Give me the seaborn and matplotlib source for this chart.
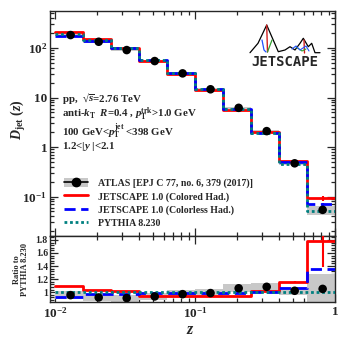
import numpy as np
import pandas as pd
import seaborn as sns
import matplotlib
matplotlib.use("Agg")
import matplotlib.pyplot as plt
from matplotlib.lines import Line2D
from matplotlib.patches import Patch
from matplotlib.ticker import FixedLocator, FixedFormatter, LogLocator, MultipleLocator, NullFormatter

# ---------------- data ----------------
z_edges = [0.01, 0.0158, 0.0251, 0.0398, 0.0631, 0.1, 0.158, 0.251, 0.398, 0.631, 1.0]
atlas_z = [0.0129, 0.0205, 0.0325, 0.0515, 0.0815, 0.129, 0.205, 0.325, 0.515, 0.816]
atlas_d = [183, 134, 91, 54.6, 30.8, 14.7, 6.2, 2.1, 0.47, 0.054]
atlas_syst = [0.06, 0.06, 0.06, 0.06, 0.06, 0.06, 0.06, 0.06, 0.06, 0.21]
pythia_d = [191.6, 145.7, 100, 58.4, 31.75, 14.9, 5.85, 1.94, 0.46, 0.0514]
colored_d = [209.8, 150.8, 102, 55.2, 30.0, 14.0, 5.50, 1.98, 0.534, 0.092]
colorless_d = [178.2, 141.3, 98, 57.8, 31.4, 14.75, 5.79, 1.94, 0.492, 0.0694]
colored_err = [0, 0, 0, 0, 0, 0, 0, 0, 0.004, 0.011]
colorless_err = [0, 0, 0, 0, 0, 0, 0, 0, 0.003, 0.005]

legend_labels = ["ATLAS [EPJ C 77, no. 6, 379 (2017)]",
                 "JETSCAPE 1.0 (Colored Had.)",
                 "JETSCAPE 1.0 (Colorless Had.)",
                 "PYTHIA 8.230"]

RED = "#ff0000"
BLUE = "#0000ff"
TEAL = "#008080"
GREY = "#c8c8c8"

sns.set_style("ticks")
plt.rcParams["font.family"] = ["Liberation Serif", "DejaVu Serif"]
plt.rcParams["font.weight"] = "bold"
plt.rcParams["mathtext.fontset"] = "custom"
plt.rcParams["mathtext.rm"] = "Liberation Serif:bold"
plt.rcParams["mathtext.it"] = "Liberation Serif:bold:italic"
plt.rcParams["mathtext.bf"] = "Liberation Serif:bold"

W, H = 353, 339
fig = plt.figure(figsize=(W / 100, H / 100), dpi=100)
L, R = 50, 335
ax = fig.add_axes([L / W, 1 - 236 / H, (R - L) / W, (236 - 11) / H])
axr = fig.add_axes([L / W, 1 - 302 / H, (R - L) / W, (302 - 236) / H], sharex=ax)

edges = np.array(z_edges)
pyth = np.array(pythia_d)


def stairs(a, vals, **kw):
    v = np.asarray(vals, dtype=float)
    df = pd.DataFrame({"z": edges, "v": np.append(v, v[-1])})
    sns.lineplot(data=df, x="z", y="v", drawstyle="steps-post", estimator=None,
                 sort=False, ax=a, legend=False, **kw)


for a in (ax, axr):
    a.set_xscale("log")
ax.set_yscale("log")

# ---- main panel ----
d = np.array(atlas_d)
s = np.array(atlas_syst)
ax.fill_between(edges, np.append(d * (1 - s), d[-1] * (1 - s[-1])),
                np.append(d * (1 + s), d[-1] * (1 + s[-1])), step="post",
                color=GREY, lw=0, zorder=1)
stairs(ax, colored_d, color=RED, lw=2.0, zorder=3)
ax.errorbar(atlas_z, colored_d, yerr=colored_err, fmt="none", ecolor=RED, elinewidth=1.5, zorder=3)
stairs(ax, colorless_d, color=BLUE, lw=2.0, linestyle=(0, (4, 2)), zorder=4)
ax.errorbar(atlas_z, colorless_d, yerr=colorless_err, fmt="none", ecolor=BLUE, elinewidth=1.5, zorder=4)
stairs(ax, pythia_d, color=TEAL, lw=2.0, linestyle=(0, (1, 1)), zorder=5)
sns.scatterplot(x=atlas_z, y=atlas_d, ax=ax, color="black", s=38, edgecolor="none", zorder=6, legend=False)

ax.set_xlim(0.0092, 1.0)
ax.set_ylim(0.016, 560)

# ---- ratio panel ----
rd = d / pyth
axr.fill_between(edges, np.append(rd * (1 - s), rd[-1] * (1 - s[-1])),
                 np.append(rd * (1 + s), rd[-1] * (1 + s[-1])), step="post",
                 color=GREY, lw=0, zorder=1)
rc = np.array(colored_d) / pyth
rb = np.array(colorless_d) / pyth
stairs(axr, rc, color=RED, lw=2.0, zorder=3)
axr.errorbar(atlas_z, rc, yerr=np.array(colored_err) / pyth * 1.9, fmt="none", ecolor=RED, elinewidth=1.5, zorder=3)
stairs(axr, rb, color=BLUE, lw=2.0, linestyle=(0, (4, 2)), zorder=4)
stairs(axr, pyth / pyth, color=TEAL, lw=2.0, linestyle=(0, (1, 1)), zorder=5)
axr.errorbar(atlas_z, rd, yerr=np.r_[np.full(9, 0.01), 0.05], fmt="none", ecolor="black", elinewidth=1.2, zorder=6)
sns.scatterplot(x=atlas_z, y=rd, ax=axr, color="black", s=38, edgecolor="none", zorder=6, legend=False)
axr.set_ylim(0.85, 1.86)

# ---- axes styling ----
for a in (ax, axr):
    a.set_xlabel("")
    a.set_ylabel("")
    for sp in a.spines.values():
        sp.set_linewidth(1.0)
        sp.set_visible(True)
    a.tick_params(which="both", direction="in", top=True, right=True, width=0.9)
    a.tick_params(which="major", length=6)
    a.tick_params(which="minor", length=3)
    a.xaxis.set_major_locator(FixedLocator([0.01, 0.1, 1.0]))
    a.xaxis.set_minor_locator(LogLocator(base=10, subs=np.arange(2, 10)))

ax.tick_params(axis="x", labelbottom=False)
ax.yaxis.set_major_locator(FixedLocator([0.1, 1, 10, 100]))
ax.yaxis.set_major_formatter(FixedFormatter([r"$10^{-1}$", "1", "10", r"$10^{2}$"]))
ax.yaxis.set_minor_locator(LogLocator(base=10, subs=np.arange(2, 10)))
ax.yaxis.set_minor_formatter(NullFormatter())
ax.tick_params(axis="y", labelsize=9.5, pad=2)

axr.xaxis.set_major_formatter(FixedFormatter([r"$10^{-2}$", r"$10^{-1}$", "1"]))
axr.xaxis.set_minor_formatter(NullFormatter())
axr.tick_params(axis="x", labelsize=9.5, pad=3)
axr.yaxis.set_major_locator(FixedLocator([1.0, 1.2, 1.4, 1.6, 1.8]))
axr.yaxis.set_major_formatter(FixedFormatter(["1", "1.2", "1.4", "1.6", "1.8"]))
axr.yaxis.set_minor_locator(MultipleLocator(0.04))
axr.tick_params(axis="y", labelsize=7, pad=1.5)

# ---- labels ----
fig.text(18 / W, 1 - 120 / H, r"$D_{\mathrm{jet}}$ $(z)$", rotation=90, ha="center", va="center", fontsize=10)
fig.text(21 / W, 1 - 270 / H, "Ratio to\nPYTHIA 8.230", rotation=90, ha="center", va="center",
         fontsize=6, multialignment="center", linespacing=1.0)
fig.text(190 / W, 1 - 330 / H, r"$z$", ha="center", va="center", fontsize=11.5)

# ---- annotations ----
tx = 62 / W
fs = 7.8
fig.text(tx, 1 - 98 / H, r"pp,  √$\overline{s}$=2.76 TeV", va="center", fontsize=fs)
fig.text(tx, 1 - 114 / H, r"anti-$k_{\mathrm{T}}$  $R$=0.4 , $p_{\mathrm{T}}^{\mathrm{trk}}$>1.0 GeV", va="center", fontsize=fs)
fig.text(tx, 1 - 131.5 / H, r"100 GeV<$p_{\mathrm{T}}^{\mathrm{jet}}$ <398 GeV", va="center", fontsize=fs)
fig.text(tx, 1 - 146.5 / H, r"1.2<|$y$ |<2.1", va="center", fontsize=fs)

# ---- legend ----
handles = [
    (Patch(facecolor=GREY, edgecolor="none"),
     Line2D([], [], color="black", lw=1.2, marker="o", markersize=6)),
    Line2D([], [], color=RED, lw=2.0),
    Line2D([], [], color=BLUE, lw=2.0, linestyle=(0, (4, 2))),
    Line2D([], [], color=TEAL, lw=2.0, linestyle=(0, (1, 1))),
]
fig.legend(handles, legend_labels, loc="upper left", bbox_to_anchor=(64 / W, 1 - 178 / H),
           bbox_transform=fig.transFigure, frameon=False, fontsize=7.1, borderpad=0,
           borderaxespad=0, handlelength=2.4, handletextpad=1.0, labelspacing=0.35,
           handleheight=1.0)

# ---- JETSCAPE logo (decoration) ----
lg = fig.add_axes([248 / W, 1 - 70 / H, 74 / W, 48 / H])
lg.set_xlim(248, 322)
lg.set_ylim(70, 22)
lg.axis("off")
mx = [250, 258, 266.7, 278.3, 285, 290, 295, 300, 303.3, 308.3, 311.7, 315, 320]
my = [52.7, 43.3, 25, 51.7, 50, 46.7, 50, 43.3, 38.3, 46.7, 43.3, 52.7, 52.7]
lg.plot(mx, my, color="black", lw=0.9)
lg.plot([266.7, 267.5], [25, 52], color="#d02020", lw=1.0)
lg.plot([262, 264, 266], [40, 50, 52], color="#2050ff", lw=0.9)
lg.plot([272, 267.5], [40, 52], color="#30a030", lw=0.9)
lg.plot([304, 304.5], [40, 53], color="#d02020", lw=1.0)
lg.plot([296, 302, 306], [47, 51, 49], color="#30a030", lw=0.8)
lg.plot([292, 296, 300, 306, 309], [49, 46, 50, 46, 51], color="#2050ff", lw=0.8)
lg.text(285, 62.5, "JETSCAPE", ha="center", va="center", fontsize=10,
        family="DejaVu Sans Mono", weight="bold")

fig.savefig("out.png", dpi=100)
